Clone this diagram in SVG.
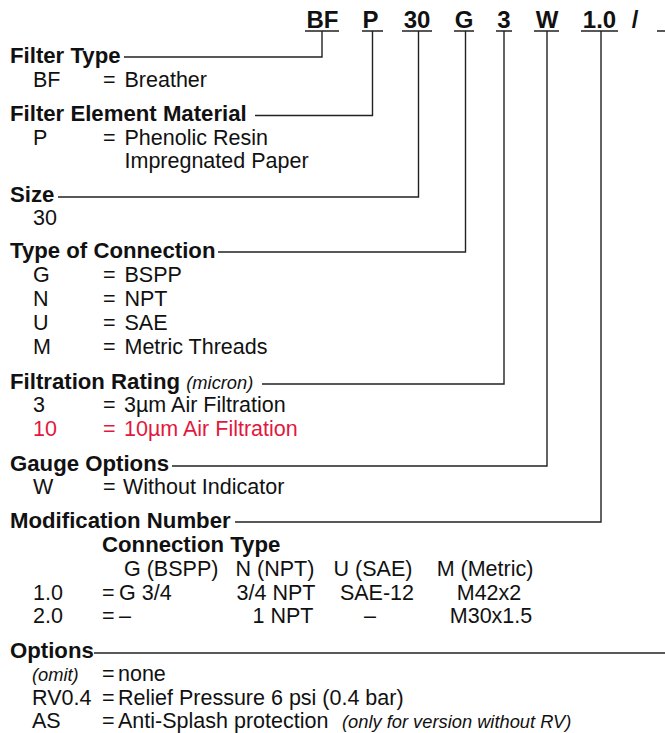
<svg xmlns="http://www.w3.org/2000/svg" width="665" height="733" viewBox="0 0 665 733">
<style>
text{font-family:"Liberation Sans",Arial,Helvetica,sans-serif;fill:#111}
.code{font-size:24px;font-weight:bold;text-anchor:middle}
.h{font-size:22.2px;font-weight:bold}
.t{font-size:21.5px}
.i{font-size:18.3px;font-style:italic}
.m{text-anchor:middle}
.red{fill:#e2183c}
.ln{fill:none;stroke:#222;stroke-width:1.4}
</style>
<rect width="665" height="733" fill="#fff"/>
<g id="code">
<text class="code" x="322.5" y="28">BF</text>
<text class="code" x="370.5" y="28">P</text>
<text class="code" x="417" y="28">30</text>
<text class="code" x="464" y="28">G</text>
<text class="code" x="504" y="28">3</text>
<text class="code" x="547" y="28">W</text>
<text class="code" x="599.5" y="28">1.0</text>
<text class="code" x="635" y="28">/</text>
</g>
<g id="connectors" class="ln">
<path d="M305 31H339M362 31H383M402 31H432M454 31H474M496 31H512M534 31H559M581 31H618M657 31H665"/>
<path d="M322 31V57H124"/>
<path d="M372.5 31V115.5H255"/>
<path d="M418.5 31V197H58"/>
<path d="M465.5 31V252H218"/>
<path d="M504 31V384H262"/>
<path d="M547 31V466H172"/>
<path d="M601 31V522H235"/>
<path d="M94 653H665"/>
</g>
<g id="filter-type">
<text class="h" x="10" y="63">Filter Type</text>
<text class="t" x="33" y="87">BF</text><text class="t" x="103" y="87">=</text><text class="t" x="124.5" y="87">Breather</text>
</g>
<g id="filter-element">
<text class="h" x="10" y="121">Filter Element Material</text>
<text class="t" x="33" y="145">P</text><text class="t" x="103" y="145">=</text><text class="t" x="124.5" y="145">Phenolic Resin</text>
<text class="t" x="124.5" y="168">Impregnated Paper</text>
</g>
<g id="size">
<text class="h" x="10" y="202">Size</text>
<text class="t" x="33" y="225">30</text>
</g>
<g id="connection">
<text class="h" x="10" y="258">Type of Connection</text>
<text class="t" x="33" y="282">G</text><text class="t" x="103" y="282">=</text><text class="t" x="124.5" y="282">BSPP</text>
<text class="t" x="33" y="306">N</text><text class="t" x="103" y="306">=</text><text class="t" x="124.5" y="306">NPT</text>
<text class="t" x="33" y="330">U</text><text class="t" x="103" y="330">=</text><text class="t" x="124.5" y="330">SAE</text>
<text class="t" x="33" y="354">M</text><text class="t" x="103" y="354">=</text><text class="t" x="124.5" y="354">Metric Threads</text>
</g>
<g id="filtration">
<text class="h" x="10" y="389">Filtration Rating <tspan class="i" font-weight="normal">(micron)</tspan></text>
<text class="t" x="33" y="412">3</text><text class="t" x="103" y="412">=</text><text class="t" x="124" y="412">3µm Air Filtration</text>
<text class="t red" x="33" y="436">10</text><text class="t red" x="103" y="436">=</text><text class="t red" x="124" y="436">10µm Air Filtration</text>
</g>
<g id="gauge">
<text class="h" x="10" y="471">Gauge Options</text>
<text class="t" x="33" y="494">W</text><text class="t" x="103" y="494">=</text><text class="t" x="123" y="494">Without Indicator</text>
</g>
<g id="modification">
<text class="h" x="10" y="528">Modification Number</text>
<text class="h" x="102" y="552">Connection Type</text>
<text class="t" x="124" y="576">G (BSPP)</text>
<text class="t m" x="275" y="576">N (NPT)</text>
<text class="t m" x="373" y="576">U (SAE)</text>
<text class="t m" x="485" y="576">M (Metric)</text>
<text class="t" x="33" y="600">1.0</text><text class="t" x="102" y="600">=</text><text class="t" x="119" y="600">G 3/4</text>
<text class="t m" x="276" y="600">3/4 NPT</text>
<text class="t m" x="377" y="600">SAE-12</text>
<text class="t m" x="489" y="600">M42x2</text>
<text class="t" x="33" y="623">2.0</text><text class="t" x="102" y="623">=</text><text class="t" x="119" y="623">–</text>
<text class="t m" x="283" y="623">1 NPT</text>
<text class="t m" x="370" y="623">–</text>
<text class="t m" x="491" y="623">M30x1.5</text>
</g>
<g id="options">
<text class="h" x="10" y="658">Options</text>
<text class="i" x="32" y="681">(omit)</text><text class="t" x="102" y="681">=</text><text class="t" x="118" y="681">none</text>
<text class="t" x="32" y="705">RV0.4</text><text class="t" x="102" y="705">=</text><text class="t" x="118" y="705">Relief Pressure 6 psi (0.4 bar)</text>
<text class="t" x="32" y="728">AS</text><text class="t" x="102" y="728">=</text><text class="t" x="118" y="728">Anti-Splash protection</text><text class="i" x="342" y="728">(only for version without RV)</text>
</g>
</svg>
